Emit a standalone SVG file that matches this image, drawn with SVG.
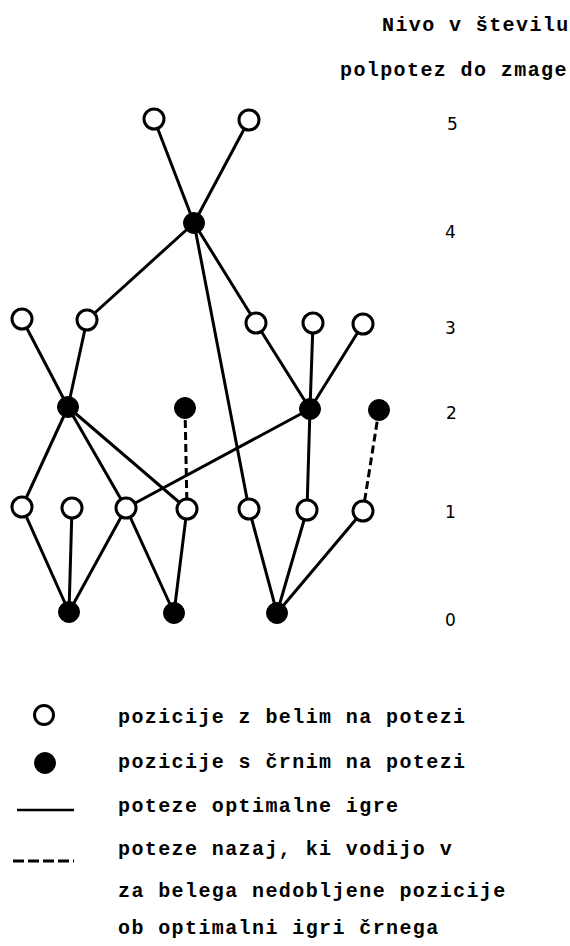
<svg xmlns="http://www.w3.org/2000/svg" width="570" height="946" viewBox="0 0 570 946">
<style>
.e{stroke:#000;stroke-width:3;fill:none;stroke-linecap:round}
.d{stroke:#000;stroke-width:3;fill:none;stroke-dasharray:8 4}
.w{fill:#fff;stroke:#000;stroke-width:3}
.b{fill:#000;stroke:#000;stroke-width:1}
.t{font-family:"Liberation Mono","DejaVu Sans Mono",monospace;font-size:20px;font-weight:bold;letter-spacing:1.4px;fill:#000}
.n{font-family:"DejaVu Sans","Liberation Sans",sans-serif;font-size:17px;fill:#000}
</style>
<rect width="570" height="946" fill="#fff"/>
<text class="t" x="382" y="31">Nivo v številu</text>
<text class="t" x="340" y="76">polpotez do zmage</text>
<g id="connectors">
<line class="e" x1="154" y1="119" x2="194" y2="223"/>
<line class="e" x1="249" y1="120" x2="194" y2="223"/>
<line class="e" x1="194" y1="223" x2="87" y2="320"/>
<line class="e" x1="194" y1="223" x2="256" y2="323"/>
<line class="e" x1="194" y1="223" x2="249" y2="509"/>
<line class="e" x1="22" y1="319" x2="68" y2="407"/>
<line class="e" x1="87" y1="320" x2="68" y2="407"/>
<line class="e" x1="68" y1="407" x2="22" y2="507"/>
<line class="e" x1="68" y1="407" x2="126" y2="508"/>
<line class="e" x1="68" y1="407" x2="187" y2="509"/>
<line class="d" x1="185" y1="408" x2="187" y2="509"/>
<line class="e" x1="256" y1="323" x2="310" y2="409"/>
<line class="e" x1="313" y1="323" x2="310" y2="409"/>
<line class="e" x1="363" y1="324" x2="310" y2="409"/>
<line class="e" x1="310" y1="409" x2="126" y2="508"/>
<line class="e" x1="310" y1="409" x2="307" y2="510"/>
<line class="d" x1="379" y1="410" x2="363" y2="511"/>
<line class="e" x1="22" y1="507" x2="69" y2="612"/>
<line class="e" x1="72" y1="508" x2="69" y2="612"/>
<line class="e" x1="126" y1="508" x2="69" y2="612"/>
<line class="e" x1="126" y1="508" x2="174" y2="613"/>
<line class="e" x1="187" y1="509" x2="174" y2="613"/>
<line class="e" x1="249" y1="509" x2="277" y2="613"/>
<line class="e" x1="307" y1="510" x2="277" y2="613"/>
<line class="e" x1="363" y1="511" x2="277" y2="613"/>
</g>
<g id="w5a"><circle class="w" cx="154" cy="119" r="10"/></g>
<g id="w5b"><circle class="w" cx="249" cy="120" r="10"/></g>
<g id="b4"><circle class="b" cx="194" cy="223" r="10.5"/></g>
<g id="w3a"><circle class="w" cx="22" cy="319" r="10"/></g>
<g id="w3b"><circle class="w" cx="87" cy="320" r="10"/></g>
<g id="w3c"><circle class="w" cx="256" cy="323" r="10"/></g>
<g id="w3d"><circle class="w" cx="313" cy="323" r="10"/></g>
<g id="w3e"><circle class="w" cx="363" cy="324" r="10"/></g>
<g id="b2a"><circle class="b" cx="68" cy="407" r="10.5"/></g>
<g id="b2b"><circle class="b" cx="185" cy="408" r="10.5"/></g>
<g id="b2c"><circle class="b" cx="310" cy="409" r="10.5"/></g>
<g id="b2d"><circle class="b" cx="379" cy="410" r="10.5"/></g>
<g id="w1a"><circle class="w" cx="22" cy="507" r="10"/></g>
<g id="w1b"><circle class="w" cx="72" cy="508" r="10"/></g>
<g id="w1c"><circle class="w" cx="126" cy="508" r="10"/></g>
<g id="w1d"><circle class="w" cx="187" cy="509" r="10"/></g>
<g id="w1e"><circle class="w" cx="249" cy="509" r="10"/></g>
<g id="w1f"><circle class="w" cx="307" cy="510" r="10"/></g>
<g id="w1g"><circle class="w" cx="363" cy="511" r="10"/></g>
<g id="b0a"><circle class="b" cx="69" cy="612" r="10.5"/></g>
<g id="b0b"><circle class="b" cx="174" cy="613" r="10.5"/></g>
<g id="b0c"><circle class="b" cx="277" cy="613" r="10.5"/></g>
<g id="levels">
<text class="n" x="447" y="130">5</text>
<text class="n" x="445" y="238">4</text>
<text class="n" x="445" y="334">3</text>
<text class="n" x="446" y="419">2</text>
<text class="n" x="445" y="518">1</text>
<text class="n" x="445" y="626">0</text>
</g>
<g id="legend">
<circle class="w" cx="44" cy="715" r="9.5"/>
<circle class="b" cx="45" cy="763" r="10.5"/>
<line x1="17" y1="810" x2="74" y2="810" stroke="#000" stroke-width="2.5"/>
<line x1="13" y1="861" x2="74" y2="861" stroke="#000" stroke-width="3" stroke-dasharray="11 4"/>
<text class="t" x="118" y="723">pozicije z belim na potezi</text>
<text class="t" x="118" y="768">pozicije s črnim na potezi</text>
<text class="t" x="118" y="812">poteze optimalne igre</text>
<text class="t" x="118" y="855">poteze nazaj, ki vodijo v</text>
<text class="t" x="118" y="897">za belega nedobljene pozicije</text>
<text class="t" x="118" y="934">ob optimalni igri črnega</text>
</g>
</svg>
